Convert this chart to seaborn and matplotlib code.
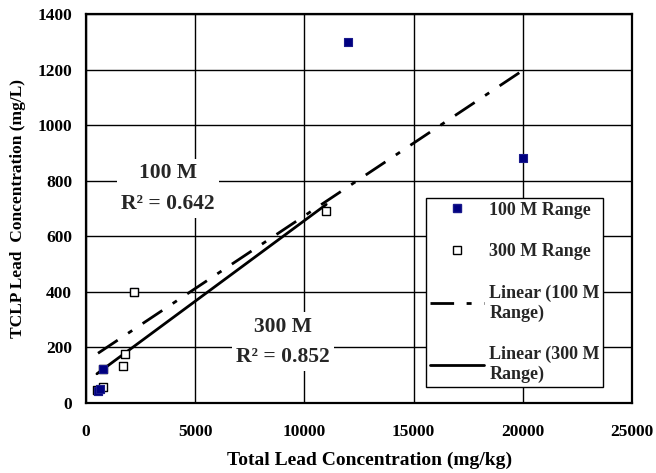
import matplotlib
matplotlib.use("Agg")
import matplotlib.pyplot as plt
import seaborn as sns
import numpy as np
import pandas as pd
from matplotlib.lines import Line2D

# ---- data ----
x_100 = [550, 650, 780, 2200, 12000, 20000]
y_100 = [43, 50, 122, 400, 1300, 880]
x_300 = [500, 800, 800, 1700, 1800, 2200, 11000]
y_300 = [45, 58, 122, 133, 176, 400, 690]

label_100 = "100 M Range"
label_300 = "300 M Range"
label_lin_100 = "Linear (100 M\nRange)"
label_lin_300 = "Linear (300 M\nRange)"
ann_100 = "100 M\nR\u00b2 = 0.642"
ann_300 = "300 M\nR\u00b2 = 0.852"

x_ticks = [0, 5000, 10000, 15000, 20000, 25000]
y_ticks = [0, 200, 400, 600, 800, 1000, 1200, 1400]
x_label = "Total Lead Concentration (mg/kg)"
y_label = "TCLP Lead  Concentration (mg/L)"

df100 = pd.DataFrame({"x": x_100, "y": y_100})
df300 = pd.DataFrame({"x": x_300, "y": y_300})

sns.set_theme(style="white")
plt.rcParams["font.family"] = ["Liberation Serif", "DejaVu Serif"]
plt.rcParams["font.weight"] = "bold"

fig = plt.figure(figsize=(6.56, 4.73), dpi=100)
ax = fig.add_axes([86 / 656, 1 - 403 / 473, (632 - 86) / 656, (403 - 14) / 473])

navy = "#000080"
dash_style = (0, (8.5, 4.5, 1.8, 4.5))

sns.regplot(data=df100, x="x", y="y", ax=ax, scatter=False, ci=None, truncate=True,
            line_kws=dict(color="black", lw=2.0, linestyle=dash_style, zorder=3))
sns.regplot(data=df300, x="x", y="y", ax=ax, scatter=False, ci=None, truncate=True,
            line_kws=dict(color="black", lw=2.0, linestyle="-", zorder=3))

sns.scatterplot(data=df100, x="x", y="y", ax=ax, marker="s", s=40, color=navy,
                edgecolor="#1a1a8c", linewidth=0.8, zorder=4, legend=False)
sns.scatterplot(data=df300, x="x", y="y", ax=ax, marker="s", s=40, color="white",
                edgecolor="black", linewidth=1.0, zorder=5, legend=False)
# the visible filled points drawn on top where both series overlap near the origin
sns.scatterplot(data=df100[df100["x"] < 1000], x="x", y="y", ax=ax, marker="s", s=40,
                color=navy, edgecolor="#1a1a8c", linewidth=0.8, zorder=6, legend=False)

ax.set_xlim(0, 25000)
ax.set_ylim(0, 1400)
ax.set_xticks(x_ticks)
ax.set_yticks(y_ticks)
ax.grid(True, color="black", lw=1.0)
ax.set_axisbelow(True)
for sp in ax.spines.values():
    sp.set_color("black")
    sp.set_linewidth(1.6)
ax.tick_params(axis="both", length=0, labelsize=12.5, colors="black")
ax.tick_params(axis="x", pad=15)
ax.tick_params(axis="y", pad=10)
for t in ax.get_xticklabels() + ax.get_yticklabels():
    t.set_fontweight("bold")
ax.set_xlabel(x_label, fontsize=14, fontweight="bold", color="black")
ax.xaxis.set_label_coords(0.52, -0.125)
ax.set_ylabel(y_label, fontsize=12.5, fontweight="bold", labelpad=8, color="black")

box = dict(boxstyle="square,pad=0.2", facecolor="white", edgecolor="none")
ax.text(0.150, 0.552, ann_100, transform=ax.transAxes, ha="center", va="center",
        fontsize=15.5, fontweight="bold", linespacing=1.7, bbox=box, zorder=7)
ax.text(0.361, 0.157, ann_300, transform=ax.transAxes, ha="center", va="center",
        fontsize=15.5, fontweight="bold", linespacing=1.7, bbox=box, zorder=7)

handles = [
    Line2D([], [], marker="s", linestyle="none", markersize=6, markerfacecolor=navy,
           markeredgecolor="#1a1a8c"),
    Line2D([], [], marker="s", linestyle="none", markersize=6, markerfacecolor="white",
           markeredgecolor="black", markeredgewidth=1.0),
    Line2D([], [], color="black", lw=2.0, linestyle=dash_style),
    Line2D([], [], color="black", lw=2.0, linestyle="-"),
]
leg = fig.legend(handles, [label_100, label_300, label_lin_100, label_lin_300],
                 loc="upper left", bbox_to_anchor=(426 / 656, 1 - 198 / 473),
                 borderaxespad=0.0,
                 frameon=True, fancybox=False, shadow=False, framealpha=1,
                 edgecolor="black", facecolor="white", borderpad=0.2,
                 labelspacing=1.35, handlelength=3.0, handletextpad=0.3,
                 prop=dict(size=13, weight="bold"))
leg.get_frame().set_linewidth(1.0)
leg.set_zorder(10)

fig.savefig("out.png", dpi=100)
